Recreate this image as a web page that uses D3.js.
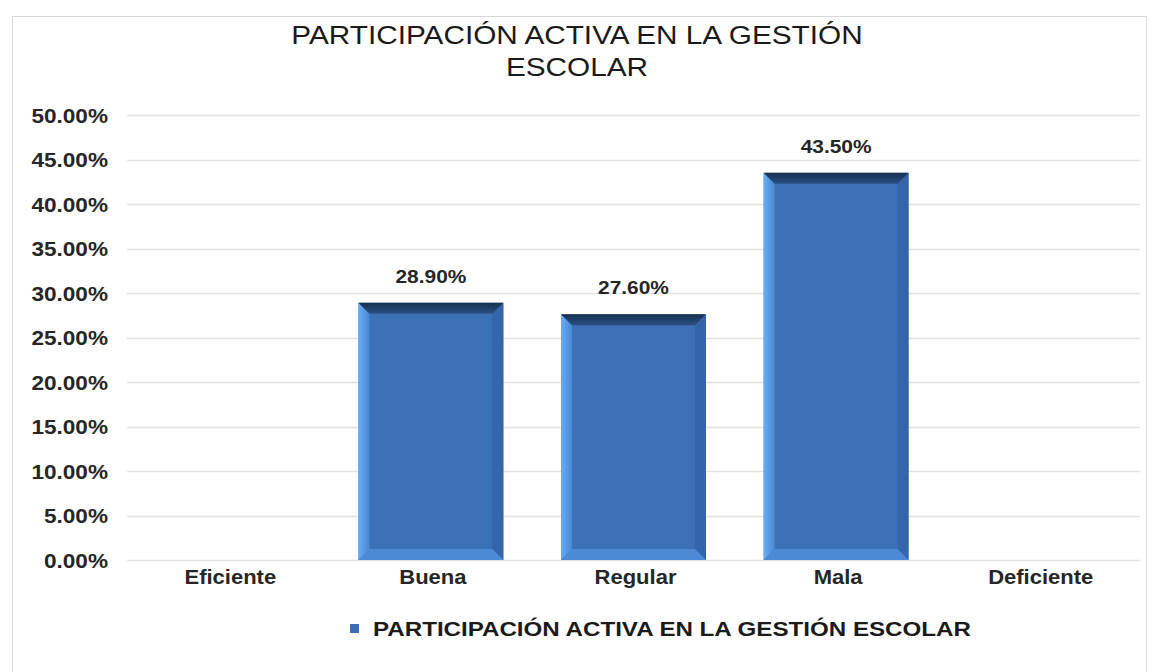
<!DOCTYPE html>
<html>
<head>
<meta charset="utf-8">
<script src="https://cdn.jsdelivr.net/npm/d3@7"></script>
<style>
  body { margin: 0; background: #fff; }
  text { font-family: "Liberation Sans", Arial, sans-serif; }
</style>
</head>
<body>
<div id="chart"></div>
<script>
// chart data
const categories = ["Eficiente", "Buena", "Regular", "Mala", "Deficiente"];
const values = [null, 28.9, 27.6, 43.5, null];
const yTicks = [0, 5, 10, 15, 20, 25, 30, 35, 40, 45, 50];
const seriesName = "PARTICIPACIÓN ACTIVA EN LA GESTIÓN ESCOLAR";
const titleLines = ["PARTICIPACIÓN ACTIVA EN LA GESTIÓN", "ESCOLAR"];

const width = 1156, height = 672;
const plotLeft = 127, plotRight = 1140, plotTop = 115, plotBottom = 560;
// the source picture is a bit stretched sideways
const stretch = 1.1;

const svg = d3.select("#chart").append("svg")
  .attr("width", width)
  .attr("height", height);

// outer frame
svg.append("rect")
  .attr("x", 12.5).attr("y", 16.5)
  .attr("width", 1134).attr("height", 670)
  .attr("fill", "#fff")
  .attr("stroke", "#d9d9d9");

// title
svg.append("g")
  .attr("transform", "translate(577,0) scale(1.19,1)")
  .append("text")
  .attr("text-anchor", "middle")
  .style("font-size", "25px")
  .attr("fill", "#1a1a1a")
  .selectAll("tspan")
  .data(titleLines)
  .join("tspan")
  .attr("x", 0)
  .attr("y", (d, i) => 44 + i * 32)
  .text(d => d);

const x = d3.scaleBand()
  .domain(categories)
  .range([plotLeft, plotRight])
  .paddingInner(0.285)
  .paddingOuter(0.1425);

const y = d3.scaleLinear()
  .domain([0, 50])
  .range([plotBottom, plotTop]);

// gridlines
svg.append("g")
  .selectAll("line")
  .data(yTicks)
  .join("line")
  .attr("x1", plotLeft).attr("x2", plotRight)
  .attr("y1", d => Math.round(y(d)) + 0.5)
  .attr("y2", d => Math.round(y(d)) + 0.5)
  .attr("stroke", "#e3e3e3")
  .attr("stroke-width", 1.5);

// y axis
const yAxis = svg.append("g")
  .attr("transform", "translate(108,0)")
  .call(d3.axisLeft(y).tickValues(yTicks).tickSize(0).tickFormat(d => d.toFixed(2) + "%"));
yAxis.select(".domain").remove();
yAxis.selectAll("text")
  .attr("x", 0)
  .attr("dy", "0.35em")
  .attr("transform", `scale(1.13,1)`)
  .style("font-size", "20px")
  .style("font-weight", "bold")
  .style("font-family", "'Liberation Sans', Arial, sans-serif")
  .attr("fill", "#262626");

// x axis
const xAxis = svg.append("g")
  .attr("transform", `translate(2,${plotBottom})`)
  .call(d3.axisBottom(x).tickSize(0));
xAxis.select(".domain").remove();
xAxis.selectAll("text")
  .attr("y", 24)
  .attr("dy", 0)
  .attr("transform", `scale(${stretch},1)`)
  .style("font-size", "20px")
  .style("font-weight", "bold")
  .style("font-family", "'Liberation Sans', Arial, sans-serif")
  .attr("fill", "#262626");

// beveled bars
const defs = svg.append("defs");
const topGrad = defs.append("linearGradient").attr("id", "topGrad")
  .attr("x1", 0).attr("y1", 0).attr("x2", 0).attr("y2", 1);
topGrad.append("stop").attr("offset", "0%").attr("stop-color", "#17304f");
topGrad.append("stop").attr("offset", "100%").attr("stop-color", "#2a5186");
const leftGrad = defs.append("linearGradient").attr("id", "leftGrad")
  .attr("x1", 0).attr("y1", 0).attr("x2", 1).attr("y2", 0);
leftGrad.append("stop").attr("offset", "0%").attr("stop-color", "#66aef7");
leftGrad.append("stop").attr("offset", "100%").attr("stop-color", "#4a86d2");

const barData = categories.map((c, i) => ({ cat: c, value: values[i] })).filter(d => d.value != null);
const bev = 11;

const bars = svg.append("g").selectAll("g")
  .data(barData)
  .join("g");

bars.append("rect")
  .attr("x", d => x(d.cat))
  .attr("y", d => y(d.value))
  .attr("width", x.bandwidth())
  .attr("height", d => y(0) - y(d.value))
  .attr("fill", "#3b6fb6");

// left bevel
bars.append("polygon")
  .attr("points", d => {
    const x0 = x(d.cat), y0 = y(d.value), y1 = y(0);
    return [[x0, y0], [x0 + bev, y0 + bev], [x0 + bev, y1 - bev], [x0, y1]].join(" ");
  })
  .attr("fill", "url(#leftGrad)");

// right bevel
bars.append("polygon")
  .attr("points", d => {
    const x1 = x(d.cat) + x.bandwidth(), y0 = y(d.value), y1 = y(0);
    return [[x1, y0], [x1 - bev, y0 + bev], [x1 - bev, y1 - bev], [x1, y1]].join(" ");
  })
  .attr("fill", "#3565a9");

// bottom bevel
bars.append("polygon")
  .attr("points", d => {
    const x0 = x(d.cat), x1 = x0 + x.bandwidth(), y1 = y(0);
    return [[x0, y1], [x0 + bev, y1 - bev], [x1 - bev, y1 - bev], [x1, y1]].join(" ");
  })
  .attr("fill", "#4d8ad6");

// top bevel
bars.append("polygon")
  .attr("points", d => {
    const x0 = x(d.cat), x1 = x0 + x.bandwidth(), y0 = y(d.value);
    return [[x0, y0], [x0 + bev, y0 + bev], [x1 - bev, y0 + bev], [x1, y0]].join(" ");
  })
  .attr("fill", "url(#topGrad)");

// value labels
bars.append("g")
  .attr("transform", d => `translate(${x(d.cat) + x.bandwidth() / 2},${y(d.value) - 20}) scale(${stretch},1)`)
  .append("text")
  .attr("text-anchor", "middle")
  .style("font-size", "19px")
  .style("font-weight", "bold")
  .attr("fill", "#262626")
  .text(d => d.value.toFixed(2) + "%");

// legend
const legend = svg.append("g").attr("transform", "translate(350,624)");
legend.append("rect")
  .attr("width", 9).attr("height", 9)
  .attr("fill", "#3b6fb6");
legend.append("text")
  .attr("transform", `translate(23,12) scale(1.15,1)`)
  .style("font-size", "21px")
  .style("font-weight", "bold")
  .attr("fill", "#1a1a1a")
  .text(seriesName);
</script>
</body>
</html>
